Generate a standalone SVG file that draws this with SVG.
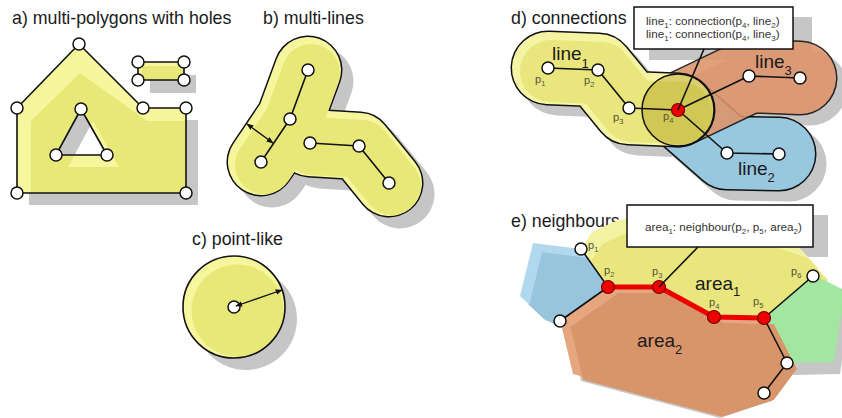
<svg xmlns="http://www.w3.org/2000/svg" width="842" height="418" viewBox="0 0 842 418">
<defs>
<style>
.title{font-family:"Liberation Sans",Arial,sans-serif;font-size:17.8px;fill:#1b1b1b}
.lbl{font-family:"Liberation Sans",Arial,sans-serif;font-size:19px;fill:#1b1b1b}
.box{font-family:"Liberation Sans",Arial,sans-serif;font-size:11.7px;fill:#333}
.pl{font-family:"Liberation Sans",Arial,sans-serif;font-size:11px;fill:#55553a}
.ol{fill:none;stroke:#111;stroke-width:1.6;stroke-linejoin:round}
.ln{fill:none;stroke:#111;stroke-width:1.6;stroke-linejoin:round}
.pt{fill:#fff;stroke:#111;stroke-width:1.5}
.rp{fill:#ee0000;stroke:#7a0000;stroke-width:1.2}
.sh{fill:#c6c6c6}
.cb{fill:#fff;stroke:#111;stroke-width:1.5}
.lite{fill:#f6f69c}
.dark{fill:#e8e878}
.rnd{fill:none;stroke-linecap:round;stroke-linejoin:round}
</style>
<marker id="ah" viewBox="0 0 10 10" refX="9" refY="5" markerWidth="7" markerHeight="7" orient="auto-start-reverse" markerUnits="userSpaceOnUse">
<path d="M0,1 L10,5 L0,9 Z" fill="#111"/>
</marker>
<clipPath id="cA"><path clip-rule="evenodd" d="M79,44 L143,108 L186,108 L186,193 L17,193 L17,108 Z M81,109 L56,155 L107,155 Z"/></clipPath>
<clipPath id="cY"><path d="M581,249 L592,232 L618,220 L700,212 L798,246 L818,268 L813,276 L764,318 L714,317 L659,287 L608,287 Z"/></clipPath>
<clipPath id="cO"><path d="M560,321 L608,287 L659,287 L714,317 L764,318 L787,363 L764,394 L712,411 L573,374 L563,332 Z"/></clipPath>
<clipPath id="cB"><path d="M533,243 L581,249 L608,287 L560,321 L536,311 L520,296 Z"/></clipPath>
</defs>
<rect width="842" height="418" fill="#fff"/>

<!-- a) multi-polygons with holes -->
<g id="panel-a">
<text class="title" x="12" y="24">a) multi-polygons with holes</text>
<g id="a-polygon">
<path class="sh" fill-rule="evenodd" transform="translate(12,12)" d="M79,44 L143,108 L186,108 L186,193 L17,193 L17,108 Z M81,109 L56,155 L107,155 Z"/>
<path class="lite" fill-rule="evenodd" d="M79,44 L143,108 L186,108 L186,193 L17,193 L17,108 Z M81,109 L56,155 L107,155 Z"/>
<path clip-path="url(#cA)" class="dark" fill-rule="evenodd" d="M31,121 L80,73 L147,121 L200,121 L200,206 L31,206 Z M93,121 L68,167 L119,167 Z"/>
<path class="ol" d="M79,44 L143,108 L186,108 L186,193 L17,193 L17,108 Z M81,109 L56,155 L107,155 Z"/>
<g>
<circle class="pt" cx="79" cy="44" r="6"/><circle class="pt" cx="143" cy="108" r="6"/><circle class="pt" cx="186" cy="108" r="6"/>
<circle class="pt" cx="186" cy="193" r="6"/><circle class="pt" cx="17" cy="193" r="6"/><circle class="pt" cx="17" cy="108" r="6"/>
<circle class="pt" cx="81" cy="109" r="6"/><circle class="pt" cx="56" cy="155" r="6"/><circle class="pt" cx="107" cy="155" r="6"/>
</g>
</g>
<g id="a-rect">
<rect class="sh" x="150" y="75" width="46" height="18"/>
<rect class="lite" x="138" y="62" width="46" height="18"/>
<rect class="dark" x="142" y="66" width="42" height="14"/>
<rect class="ol" x="138" y="62" width="46" height="18"/>
<circle class="pt" cx="138" cy="62" r="6"/><circle class="pt" cx="184" cy="62" r="6"/>
<circle class="pt" cx="138" cy="80" r="6"/><circle class="pt" cx="184" cy="80" r="6"/>
</g>
</g>

<!-- b) multi-lines -->
<g id="panel-b">
<text class="title" x="263" y="24">b) multi-lines</text>
<path class="rnd" stroke="#c6c6c6" stroke-width="69" transform="translate(11,11)" d="M308,70 L290,119 L261,162 M310,143 L359,146 L389,183"/>
<path class="rnd" stroke="#111" stroke-width="69" d="M308,70 L290,119 L261,162 M310,143 L359,146 L389,183"/>
<path class="rnd" stroke="#f6f69c" stroke-width="66" d="M308,70 L290,119 L261,162 M310,143 L359,146 L389,183"/>
<path class="rnd" stroke="#e8e878" stroke-width="58" transform="translate(3,3)" d="M308,70 L290,119 L261,162 M310,143 L359,146 L389,183"/>
<path class="ln" d="M308,70 L290,119 L261,162 M310,143 L359,146 L389,183"/>
<line x1="247" y1="124" x2="273" y2="143" stroke="#111" stroke-width="1.3" marker-start="url(#ah)" marker-end="url(#ah)"/>
<circle class="pt" cx="308" cy="70" r="6"/><circle class="pt" cx="290" cy="119" r="6"/><circle class="pt" cx="261" cy="162" r="6"/>
<circle class="pt" cx="310" cy="143" r="6"/><circle class="pt" cx="359" cy="146" r="6"/><circle class="pt" cx="389" cy="183" r="6"/>
</g>

<!-- c) point-like -->
<g id="panel-c">
<text class="title" x="192" y="245">c) point-like</text>
<circle class="sh" cx="246" cy="319" r="51"/>
<circle class="lite" cx="234" cy="307" r="51"/>
<circle class="dark" cx="237.5" cy="310.5" r="46"/>
<circle class="ol" cx="234" cy="307" r="51"/>
<circle class="pt" cx="234" cy="307" r="6"/>
<line x1="236" y1="306" x2="282" y2="290" stroke="#111" stroke-width="1.3" marker-start="url(#ah)" marker-end="url(#ah)"/>
</g>

<!-- d) connections -->
<g id="panel-d">
<text class="title" x="511" y="24">d) connections</text>
<rect class="sh" x="649" y="17" width="163" height="43"/>
<g id="d-shadows" class="rnd" stroke="#c6c6c6" stroke-width="75" transform="translate(10,10)">
<path d="M678,110 L727,153 L779,154"/>
<path d="M678,110 L749,76 L800,78"/>
<path d="M548,68 L598,70 L629,108 L678,110"/>
</g>
<g id="line2-area">
<path class="rnd" stroke="#111" stroke-width="75" d="M678,110 L727,153 L779,154"/>
<path class="rnd" stroke="#98c8e0" stroke-width="72" d="M678,110 L727,153 L779,154"/>
</g>
<g id="line3-area" opacity="0.88">
<path class="rnd" stroke="#111" stroke-width="75" d="M678,110 L749,76 L800,78"/>
<path class="rnd" stroke="#de946a" stroke-width="72" d="M678,110 L749,76 L800,78"/>
</g>
<g id="line1-area">
<path class="rnd" stroke="#111" stroke-width="75" d="M548,68 L598,70 L629,108 L678,110"/>
<path class="rnd" stroke="#f4f4a2" stroke-width="72" d="M548,68 L598,70 L629,108 L678,110"/>
<path class="rnd" stroke="#e8e67c" stroke-width="62" transform="translate(3,3)" d="M548,68 L598,70 L629,108 L678,110"/>
</g>
<circle cx="678" cy="110" r="36" fill="#a89010" fill-opacity="0.36" stroke="#111" stroke-width="1.5"/>
<path class="ln" d="M548,68 L598,70 L629,108 L678,110"/>
<path class="ln" d="M678,110 L749,76 L800,78"/>
<path class="ln" d="M678,110 L727,153 L779,154"/>
<circle class="pt" cx="548" cy="68" r="6"/><circle class="pt" cx="598" cy="70" r="6"/><circle class="pt" cx="629" cy="108" r="6"/>
<circle class="pt" cx="749" cy="76" r="6"/><circle class="pt" cx="800" cy="78" r="6"/>
<circle class="pt" cx="727" cy="153" r="6"/><circle class="pt" cx="779" cy="154" r="6"/>
<circle class="rp" cx="678" cy="110" r="6.5"/>
<text class="lbl" x="552" y="60">line<tspan font-size="13" dy="8">1</tspan></text>
<text class="lbl" x="755" y="68">line<tspan font-size="13" dy="7">3</tspan></text>
<text class="lbl" x="738" y="175">line<tspan font-size="13" dy="7">2</tspan></text>
<text class="pl" x="535" y="83">p<tspan font-size="7.5" dy="2.5">1</tspan></text>
<text class="pl" x="584" y="84">p<tspan font-size="7.5" dy="2.5">2</tspan></text>
<text class="pl" x="613" y="121">p<tspan font-size="7.5" dy="2.5">3</tspan></text>
<text class="pl" x="663" y="120">p<tspan font-size="7.5" dy="2.5">4</tspan></text>
<g id="d-callout">
<rect class="cb" x="634" y="7" width="159" height="42"/>
<text class="box" x="646" y="25">line<tspan font-size="8" dy="3">1</tspan><tspan dy="-3">: connection(p</tspan><tspan font-size="8" dy="3">4</tspan><tspan dy="-3">, line</tspan><tspan font-size="8" dy="3">2</tspan><tspan dy="-3">)</tspan></text>
<text class="box" x="646" y="38">line<tspan font-size="8" dy="3">1</tspan><tspan dy="-3">: connection(p</tspan><tspan font-size="8" dy="3">4</tspan><tspan dy="-3">, line</tspan><tspan font-size="8" dy="3">3</tspan><tspan dy="-3">)</tspan></text>
</g>
</g>

<!-- e) neighbours -->
<g id="panel-e">
<text class="title" x="511" y="227">e) neighbours</text>
<rect class="sh" x="642" y="215" width="186" height="42"/>
<g id="e-shadows" class="sh">
<path transform="translate(8,8)" d="M533,243 L581,249 L608,287 L560,321 L536,311 L520,296 Z"/>
<path transform="translate(6,12)" d="M813,276 L824,280 L842,289 L842,310 L834,362 L787,363 L764,318 Z"/>
<path transform="translate(8,7)" d="M560,321 L608,287 L659,287 L714,317 L764,318 L787,363 L764,394 L712,411 L573,374 L563,332 Z"/>
</g>
<g id="e-blue">
<path fill="#b2d8ee" d="M533,243 L581,249 L608,287 L560,321 L536,311 L520,296 Z"/>
<path clip-path="url(#cB)" fill="#98c4de" transform="translate(9,9)" d="M533,243 L581,249 L608,287 L560,321 L536,311 L520,296 Z"/>
</g>
<g id="area1">
<path fill="#f2f2a0" d="M581,249 L592,232 L618,220 L700,212 L798,246 L818,268 L813,276 L764,318 L714,317 L659,287 L608,287 Z"/>
<path clip-path="url(#cY)" fill="#e8e67c" transform="translate(10,12)" d="M581,249 L592,232 L618,220 L700,212 L798,246 L818,268 L813,276 L764,318 L714,317 L659,287 L608,287 Z"/>
</g>
<g id="e-green">
<path fill="#a2e6a2" d="M813,276 L824,280 L842,289 L842,310 L834,362 L787,363 L764,318 Z"/>
</g>
<g id="area2">
<path fill="#e6a680" d="M560,321 L608,287 L659,287 L714,317 L764,318 L787,363 L764,394 L712,411 L573,374 L563,332 Z"/>
<path clip-path="url(#cO)" fill="#d8956a" transform="translate(10,6)" d="M560,321 L608,287 L659,287 L714,317 L764,318 L787,363 L764,394 L712,411 L573,374 L563,332 Z"/>
</g>
<path class="ln" d="M581,249 L608,287 L560,321"/>
<path class="ln" d="M813,276 L764,318 L787,363 L764,393"/>
<path fill="none" stroke="#ee0000" stroke-width="5" stroke-linejoin="round" d="M608,287 L659,287 L714,317 L764,318"/>
<circle class="pt" cx="581" cy="249" r="6"/><circle class="pt" cx="813" cy="276" r="6"/><circle class="pt" cx="560" cy="321" r="6"/>
<circle class="pt" cx="787" cy="363" r="6"/><circle class="pt" cx="764" cy="393" r="6"/>
<circle class="rp" cx="608" cy="287" r="6.5"/><circle class="rp" cx="659" cy="287" r="6.5"/>
<circle class="rp" cx="714" cy="317" r="6.5"/><circle class="rp" cx="764" cy="318" r="6.5"/>
<text class="lbl" x="695" y="290">area<tspan font-size="13" dy="6">1</tspan></text>
<text class="lbl" x="637" y="347">area<tspan font-size="13" dy="7">2</tspan></text>
<text class="pl" x="588" y="249">p<tspan font-size="7.5" dy="2.5">1</tspan></text>
<text class="pl" x="604" y="274">p<tspan font-size="7.5" dy="2.5">2</tspan></text>
<text class="pl" x="652" y="275">p<tspan font-size="7.5" dy="2.5">3</tspan></text>
<text class="pl" x="709" y="306">p<tspan font-size="7.5" dy="2.5">4</tspan></text>
<text class="pl" x="753" y="305">p<tspan font-size="7.5" dy="2.5">5</tspan></text>
<text class="pl" x="791" y="275">p<tspan font-size="7.5" dy="2.5">6</tspan></text>
<g id="e-callout">
<rect class="cb" x="627" y="205" width="186" height="42"/>
<text class="box" x="645" y="231">area<tspan font-size="8" dy="3">1</tspan><tspan dy="-3">: neighbour(p</tspan><tspan font-size="8" dy="3">2</tspan><tspan dy="-3">, p</tspan><tspan font-size="8" dy="3">5</tspan><tspan dy="-3">, area</tspan><tspan font-size="8" dy="3">2</tspan><tspan dy="-3">)</tspan></text>
</g>
</g>

<!-- connectors: callout leaders -->
<g id="connectors" class="ln">
<line x1="704" y1="49" x2="678" y2="110"/>
<line x1="698" y1="247" x2="659" y2="287"/>
</g>
</svg>
